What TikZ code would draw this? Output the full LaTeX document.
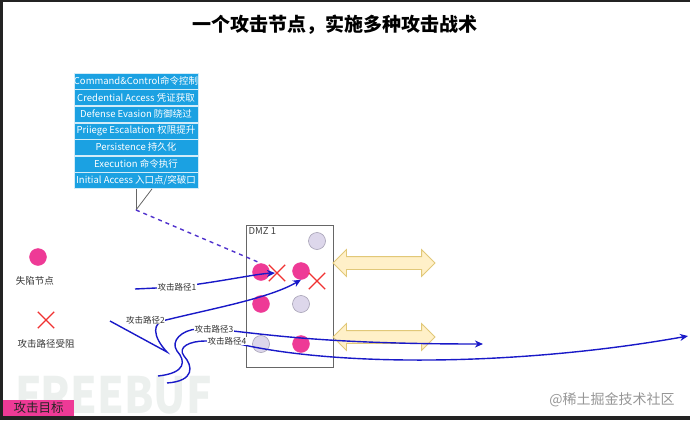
\documentclass[tikz,border=0pt]{standalone}
\usepackage{fontspec}
\setmainfont{Noto Sans CJK SC}
\usepackage{tikz}
\usetikzlibrary{positioning,shapes.misc,shapes.arrows,arrows.meta}
\definecolor{atkblue}{RGB}{25,25,200}
\definecolor{probeblue}{RGB}{80,50,205}
\definecolor{hitpink}{RGB}{238,58,150}
\definecolor{idlelav}{RGB}{221,215,235}
\definecolor{idleedge}{RGB}{165,160,180}
\definecolor{tacblue}{RGB}{27,161,226}
\definecolor{linkyel}{RGB}{255,240,200}
\definecolor{linkedge}{RGB}{225,200,120}
\definecolor{blockred}{RGB}{240,50,50}
\definecolor{frameblk}{RGB}{35,35,35}
\definecolor{wmgray}{RGB}{236,240,238}
\definecolor{wmtext}{RGB}{150,150,150}
\tikzset{hit/.style={circle,minimum size=17pt,inner sep=0pt,fill=hitpink,draw=hitpink}}
\tikzset{idle/.style={circle,minimum size=17pt,inner sep=0pt,fill=idlelav,draw=idleedge,line width=0.6pt}}
\tikzset{blocked/.style={cross out,draw=blockred,line width=1.3pt,minimum size=15pt,inner sep=0pt}}
\tikzset{tactic/.style={rectangle,fill=tacblue,draw=white!80!tacblue,line width=0.6pt,text=white,minimum width=124pt,minimum height=16pt,inner sep=0pt,font=\fontsize{9.5}{10}\selectfont}}
\tikzset{atk/.style={->,>={Stealth[length=8pt,width=7pt,inset=2.5pt]},draw=atkblue,line width=1.4pt}}
\tikzset{atklabel/.style={fill=white,inner sep=0.5pt,text=black!80,font=\fontsize{8.5}{9}\selectfont}}
\tikzset{legtxt/.style={text=black!80,font=\fontsize{9.5}{10}\selectfont}}
\tikzset{link/.style={double arrow,fill=linkyel,draw=linkedge,line width=0.8pt,minimum height=102pt,text height=6pt,text depth=6pt,double arrow head extend=7pt,inner sep=0pt}}

\begin{document}
\begin{tikzpicture}[x=1pt,y=-1pt]
            \useasboundingbox (0,0) rectangle (690,420);
            % watermarks
            \node[text=wmgray,font=\fontsize{50}{50}\selectfont\bfseries,xscale=0.85,anchor=base west] (freebuf) at (12,413) {FREEBUF};
            \node[text=wmtext,font=\fontsize{14}{14}\selectfont] (juejin) at (612,400) {@稀土掘金技术社区};
            % title
            \node[font=\fontsize{19}{19}\selectfont\bfseries] (title) at (335,25) {一个攻击节点，实施多种攻击战术};

            % the tactics stack
            \node[tactic] (cmdctl) at (136,81) {Command\&Control命令控制};
            \node[tactic,below=0pt of cmdctl] (credacc) {Credential Access 凭证获取};
            \node[tactic,below=0pt of credacc] (defeva) {Defense Evasion 防御绕过};
            \node[tactic,below=0pt of defeva] (privesc) {Priiege Escalation 权限提升};
            \node[tactic,below=0pt of privesc] (persist) {Persistence 持久化};
            \node[tactic,below=0pt of persist] (execute) {Execution 命令执行};
            \node[tactic,below=0pt of execute] (initacc) {Initial Access 入口点/突破口};
            \coordinate (calltip) at (136,210);
            \draw[black!60,line width=0.8pt] (initacc.south) -- (calltip);
            \draw[black!60,line width=0.8pt] ([xshift=16pt]initacc.south) -- (calltip);

            % the DMZ and its hosts
            \node[draw=black!60,line width=1pt,minimum width=87pt,minimum height=142pt] (dmz) at (289.5,296) {};
            \node[anchor=north west,inner sep=0pt,text=black!75,font=\fontsize{9.5}{10}\selectfont] (dmzlbl) at ([xshift=3pt,yshift=-3pt]dmz.north west) {DMZ 1};
            \node[link] (link1) at (384,263) {};
            \node[link] (link2) at (384,337) {};
            \node[idle] (idle1) at (317,241) {};
            \node[hit] (hit1) at (261,272) {};
            \node[hit] (hit2) at (301,271) {};
            \node[hit] (hit3) at (261,304) {};
            \node[idle] (idle2) at (301,304) {};
            \node[idle] (idle3) at (261,344) {};
            \node[hit] (hit4) at (301,344) {};
            \node[blocked] (blk1) at (277,273) {};
            \node[blocked] (blk2) at (317,281) {};

            % the legend
            \node[hit] (leghit) at (38,257) {};
            \node[legtxt] (leghittxt) at (35,281) {失陷节点};
            \node[blocked] (legblk) at (46,320) {};
            \node[legtxt] (legblktxt) at (46,344) {攻击路径受阻};
            \node[fill=hitpink,minimum width=71pt,minimum height=16pt,inner sep=0pt,text=black!85,font=\fontsize{12.5}{13}\selectfont] (goal) at (38.5,408) {攻击目标};

            % the attack paths
            \coordinate (s1) at (135,289);
            \coordinate (s2) at (110,321);
            \coordinate (s3) at (158,376);
            \coordinate (s4) at (167,383);
            \coordinate (e3) at (483,344);
            \coordinate (e4) at (688,336);
            \draw[probeblue,line width=1.4pt,dash pattern=on 4pt off 4pt] (calltip) -- (hit1.north);
            \draw[atk] (s1) -- (177,287) node[atklabel] (lbl1) {攻击路径1} .. controls (225,281) and (255,274) .. ([xshift=-2pt]blk1.center);
            \draw[atk] (s2) -- (167,352) .. controls (152,336) and (152,322) .. (166,320) node[atklabel,anchor=east] (lbl2) {攻击路径2} .. controls (215,308) and (270,298) .. (hit2.south);
            \draw[atk] (s3) .. controls (186,373) and (186,361) .. (177,351) .. controls (170,341) and (182,330) .. (197,329) -- (214,329) node[atklabel] (lbl3) {攻击路径3} .. controls (265,334) and (320,344) .. (e3);
            \draw[atk] (s4) .. controls (195,381) and (193,366) .. (184,356) .. controls (177,347) and (190,341) .. (205,341) -- (227,341) node[atklabel] (lbl4) {攻击路径4} .. controls (330,368) and (520,366) .. (e4);

            % the frame
            \fill[frameblk] (0,0) rectangle (690,2.5);
            \fill[frameblk] (0,0) rectangle (3,420);
            \fill[frameblk] (0,416) rectangle (690,420);
        \end{tikzpicture}
\end{document}
